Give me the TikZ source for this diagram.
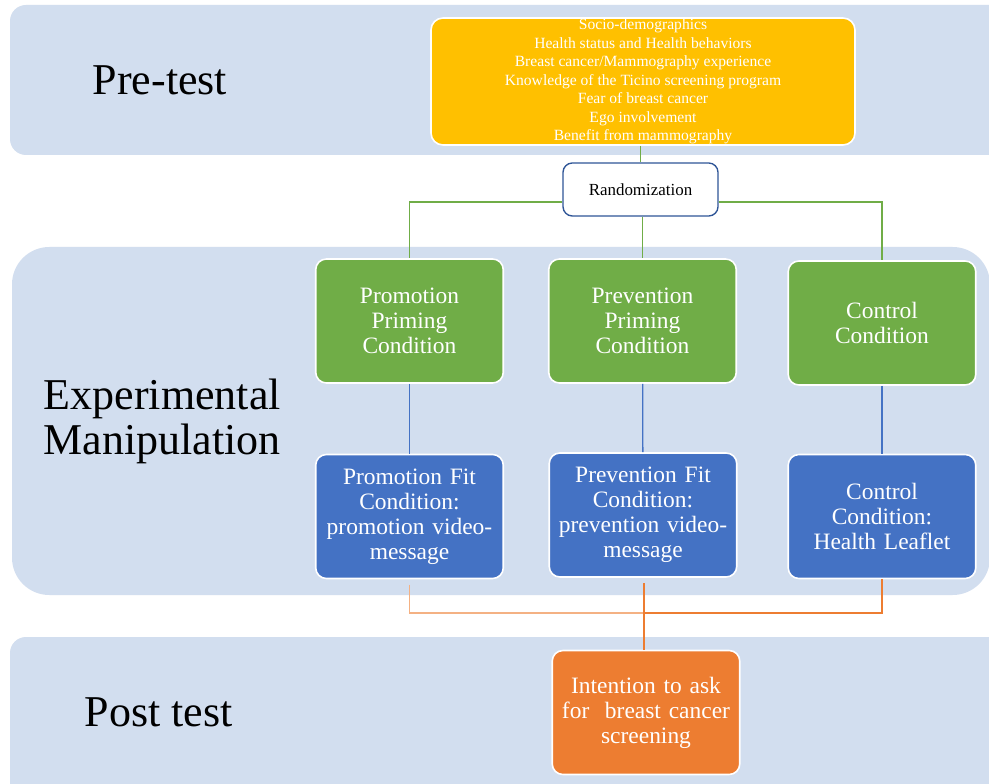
\documentclass[tikz,border=0pt]{standalone}
\usepackage{fontspec}
\setmainfont{Liberation Serif}
\definecolor{bandblue}{HTML}{D2DEEF}
\definecolor{pregold}{HTML}{FFC000}
\definecolor{primegreen}{HTML}{70AD47}
\definecolor{fitblue}{HTML}{4472C4}
\definecolor{postorange}{HTML}{ED7D31}
\definecolor{paleorange}{HTML}{F4B183}
\definecolor{randedge}{HTML}{2F5597}
\tikzset{
  band/.style={fill=bandblue, draw=none},
  phase/.style={align=left, anchor=west, font=\fontsize{33}{33.75}\selectfont},
  condbox/.style={draw=white, line width=1.2pt, rounded corners=8pt, align=center, text=white,
    minimum width=138.75pt, minimum height=93pt, text width=134pt,
    font=\fontsize{17.6}{18.75}\selectfont},
  primebox/.style={condbox, fill=primegreen},
  fitbox/.style={condbox, fill=fitblue},
  postbox/.style={condbox, fill=postorange},
  infobox/.style={draw=white, line width=1.2pt, rounded corners=9pt, fill=pregold, align=center,
    text=white, minimum width=318pt, minimum height=95.25pt, inner sep=0pt,
    font=\fontsize{11.7}{13.9}\selectfont},
  randbox/.style={draw=randedge, line width=1pt, rounded corners=7pt, fill=white,
    minimum width=116.25pt, minimum height=39.75pt, font=\fontsize{12.7}{13}\selectfont},
  greenline/.style={draw=primegreen, line width=1pt},
  blueline/.style={draw=fitblue, line width=1pt},
  orangeline/.style={draw=postorange, line width=1pt},
  paleline/.style={draw=paleorange, line width=1pt}
}
\begin{document}
\begin{tikzpicture}[x=0.75pt, y=-0.75pt]
\clip (0,0) rectangle (989,784);
\fill[white] (0,0) rectangle (989,784);
% phase bands
\fill[band, rounded corners=12pt] (10,5) rectangle (1010,155);
\fill[band, rounded corners=28pt] (12,247) rectangle (990,595);
\fill[band, rounded corners=12pt] (10,637) rectangle (1010,800);
\node[phase] (pretest) at (88,80) {Pre-test};
\node[phase] (manip) at (39,421) {Experimental\\Manipulation};
\node[phase] (posttest) at (80,712) {Post test};
% boxes
\node[infobox] (info) at (643,81.5) {Socio-demographics\\Health status and Health behaviors\\Breast cancer/Mammography experience\\Knowledge of the Ticino screening program\\Fear of breast cancer\\Ego involvement\\Benefit from mammography};
\node[randbox] (rand) at (640.5,189.5) {Randomization};
\node[primebox] (prom) at (409.5,321) {Promotion\\Priming\\Condition};
\node[primebox] (prev) at (642.5,321) {Prevention\\Priming\\Condition};
\node[primebox] (ctrl) at (882,323) {Control\\Condition};
\node[fitbox] (pfit) at (409.5,516.5) {Promotion Fit\\Condition:\\promotion video-\\message};
\node[fitbox] (vfit) at (643,515) {Prevention Fit\\Condition:\\prevention video-\\message};
\node[fitbox] (cfit) at (882,516.5) {Control\\Condition:\\Health Leaflet};
\node[postbox] (post) at (646,712.5) {Intention to ask\\for~ breast cancer\\screening};
% connectors
\coordinate (split) at (642,202);
\coordinate (join) at (644,613);
\draw[greenline] (info.south -| rand.north) -- (rand.north);
\draw[greenline] (rand.west |- split) -| (prom.north);
\draw[greenline] (rand.east |- split) -| (ctrl.north);
\draw[greenline] (rand.south -| prev.north) -- (prev.north);
\draw[blueline] (prom) -- (pfit);
\draw[blueline] (prev) -- (vfit);
\draw[blueline] (ctrl) -- (cfit);
\draw[paleline, shorten <=4pt] (pfit.south) |- (join);
\draw[orangeline] (cfit.south) |- (join);
\draw[orangeline, shorten <=4pt] (vfit.south -| join) -- (post.north -| join);
\end{tikzpicture}
\end{document}
